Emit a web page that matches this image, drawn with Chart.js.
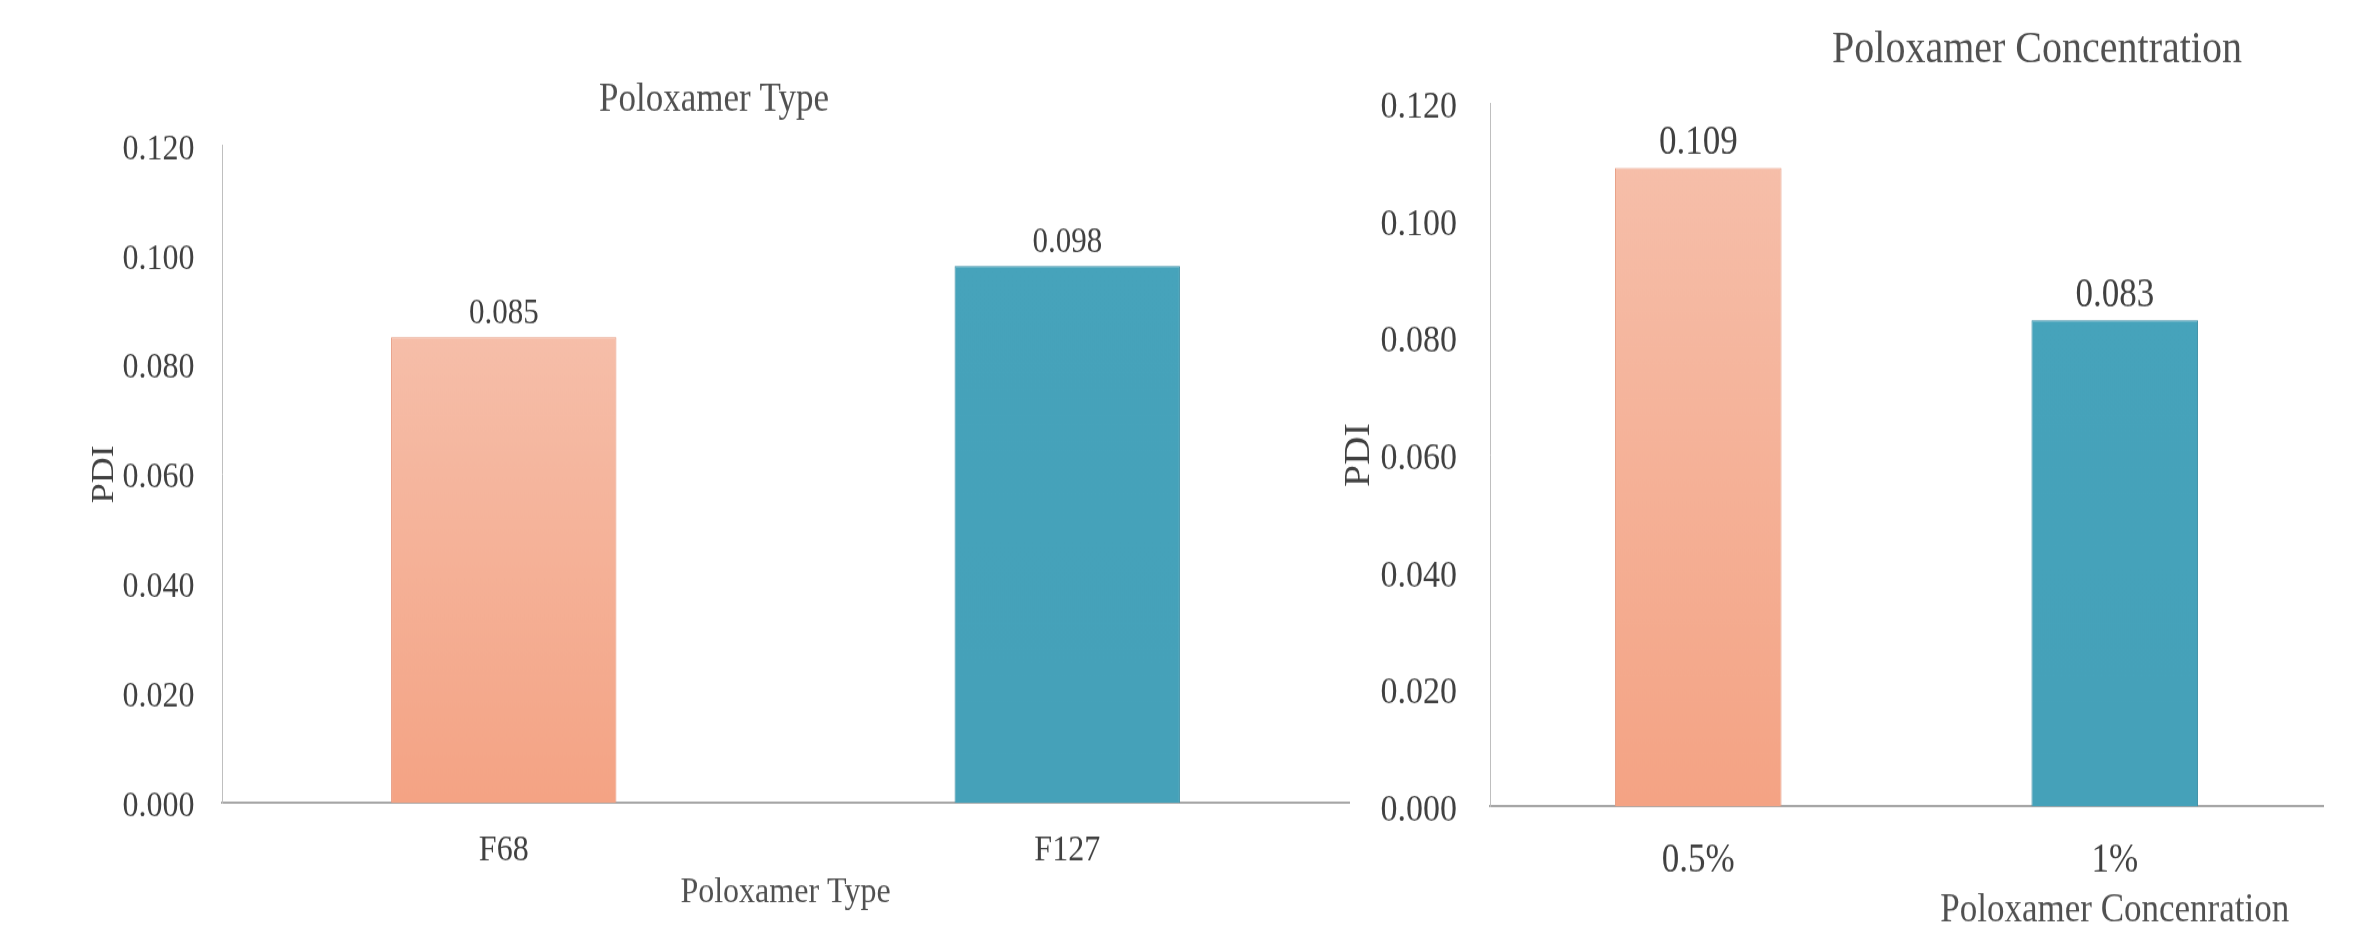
<!DOCTYPE html>
<html>
<head>
<meta charset="utf-8">
<script src="https://cdn.jsdelivr.net/npm/chart.js@4.4.0/dist/chart.umd.min.js"></script>
<style>
html, body { margin: 0; padding: 0; background: #ffffff; overflow: hidden; }
#wrap { position: relative; width: 2353px; height: 927px; background: #ffffff; }
canvas { position: absolute; top: 0; }
</style>
</head>
<body>
<div id="wrap">
  <canvas id="c1" width="1360" height="820" style="left:0px;width:1360px;height:927px"></canvas>
  <canvas id="c2" width="1023" height="820" style="left:1330px;width:1023px;height:927px"></canvas>
</div>
<script>
// ---------------- data ----------------
const typeCategories = ['F68', 'F127'];
const typePDI = [0.085, 0.098];
const concCategories = ['0.5%', '1%'];
const concPDI = [0.109, 0.083];
const yTickValues = [0.000, 0.020, 0.040, 0.060, 0.080, 0.100, 0.120];
const typeChartTitle = 'Poloxamer Type';
const typeAxisTitle = 'Poloxamer Type';
const concChartTitle = 'Poloxamer Concentration';
const concAxisTitle = 'Poloxamer Concenration';
const yAxisTitle = 'PDI';

// ---------------- styling ----------------
const FONT = '"Liberation Serif", "Times New Roman", Times, serif';
const TEXT = '#404040';
const TITLE = '#505050';
const barStyles = [
  { top: '#F6BEA9', bottom: '#F4A384', border: '#E79C82' },
  { top: '#46A3BB', bottom: '#45A1B9', border: '#3C8FA6' }
];

function barFill(c) {
  const st = barStyles[c.dataIndex % barStyles.length];
  const chart = c.chart;
  const ys = chart.scales && chart.scales.y;
  if (!ys || c.type !== 'data' || !isFinite(ys.getPixelForValue(0))) return st.bottom;
  const top = ys.getPixelForValue(c.raw);
  const bottom = ys.getPixelForValue(0);
  if (!isFinite(top) || bottom - top < 1) return st.bottom;
  const g = chart.ctx.createLinearGradient(0, top, 0, bottom);
  g.addColorStop(0, st.top);
  g.addColorStop(1, st.bottom);
  return g;
}

const valueLabels = {
  id: 'valueLabels',
  afterDatasetsDraw(chart, args, opts) {
    const ctx = chart.ctx;
    const meta = chart.getDatasetMeta(0);
    const data = chart.data.datasets[0].data;
    ctx.save();
    ctx.font = opts.size + 'px ' + FONT;
    ctx.fillStyle = TEXT;
    ctx.textAlign = 'center';
    ctx.textBaseline = 'alphabetic';
    meta.data.forEach((bar, i) => {
      ctx.fillText(data[i].toFixed(3), bar.x, bar.y - opts.gap);
    });
    ctx.restore();
  }
};

const extraText = {
  id: 'extraText',
  afterDraw(chart, args, opts) {
    const ctx = chart.ctx;
    (opts.items || []).forEach(it => {
      ctx.save();
      ctx.font = it.size + 'px ' + FONT;
      ctx.fillStyle = it.color;
      ctx.textAlign = 'center';
      ctx.textBaseline = 'alphabetic';
      const x = typeof it.x === 'function' ? it.x(chart) : it.x;
      ctx.fillText(it.text, x, it.y);
      ctx.restore();
    });
  }
};

function makeChart(el, p) {
  return new Chart(el, {
    type: 'bar',
    data: {
      labels: p.categories,
      datasets: [{
        data: p.values,
        backgroundColor: barFill,
        borderColor: (c) => barStyles[c.dataIndex % barStyles.length].border,
        borderWidth: 1,
        barPercentage: 0.4,
        categoryPercentage: 1.0
      }]
    },
    options: {
      responsive: false,
      devicePixelRatio: 1,
      animation: false,
      events: [],
      layout: { padding: { left: 0, right: p.padRight, top: p.padTop, bottom: 0 } },
      plugins: {
        legend: { display: false },
        title: { display: false },
        tooltip: { enabled: false },
        valueLabels: { size: p.labelSize, gap: 12.4 },
        extraText: { items: p.texts }
      },
      scales: {
        x: {
          grid: { display: false, drawTicks: false },
          border: { display: true, color: '#A6A6A6', width: 2 },
          ticks: { color: TEXT, font: { family: FONT, size: p.xTickSize }, padding: p.xTickPad },
          title: p.xTitle ? {
            display: true, text: p.xTitle, color: TITLE,
            font: { family: FONT, size: p.xTitleSize },
            padding: { top: 0, bottom: p.xTitlePad }
          } : { display: false },
          afterFit: (s) => { s.height = p.xHeight; }
        },
        y: {
          min: 0, max: 0.12,
          grid: { display: false, drawTicks: false },
          border: { display: true, color: '#BFBFBF', width: 1 },
          afterBuildTicks: (s) => { s.ticks = yTickValues.map(v => ({ value: v })); },
          ticks: {
            color: TEXT, font: { family: FONT, size: p.yTickSize }, padding: p.yTickPad,
            labelOffset: 3.5,
            callback: (v) => Number(v).toFixed(3)
          },
          title: {
            display: true, text: yAxisTitle, color: TEXT,
            font: { family: FONT, size: p.yTitleSize },
            padding: { top: p.yTitlePad, bottom: 0 }
          },
          afterFit: (s) => { s.width = p.yWidth; }
        }
      }
    },
    plugins: [valueLabels, extraText]
  });
}

// left chart: Poloxamer Type
makeChart(document.getElementById('c1'), {
  categories: typeCategories,
  values: typePDI,
  padRight: 11, padTop: 128.7,
  labelSize: 31,
  xTickSize: 32, xTickPad: 23.3,
  xTitle: typeAxisTitle, xTitleSize: 32, xTitlePad: 11.1,
  xHeight: 109.7,
  yTickSize: 32, yTickPad: 27.5,
  yTitleSize: 32, yTitlePad: 85,
  yWidth: 222,
  texts: [
    { text: typeChartTitle, size: 35, color: TITLE, x: 714, y: 98.4 }
  ]
});

// right chart: Poloxamer Concentration
makeChart(document.getElementById('c2'), {
  categories: concCategories,
  values: concPDI,
  padRight: 30, padTop: 91.6,
  labelSize: 35,
  xTickSize: 35, xTickPad: 27.8,
  xTitle: null, xTitleSize: 35, xTitlePad: 0,
  xHeight: 106.6,
  yTickSize: 34, yTickPad: 33,
  yTitleSize: 35, yTitlePad: 9,
  yWidth: 160,
  texts: [
    { text: concChartTitle, size: 40, color: TITLE, x: 707, y: 54.8 },
    { text: concAxisTitle, size: 35, color: TITLE, x: (ch) => ch.scales.x.getPixelForValue(1), y: 814.6 }
  ]
});
</script>
</body>
</html>
